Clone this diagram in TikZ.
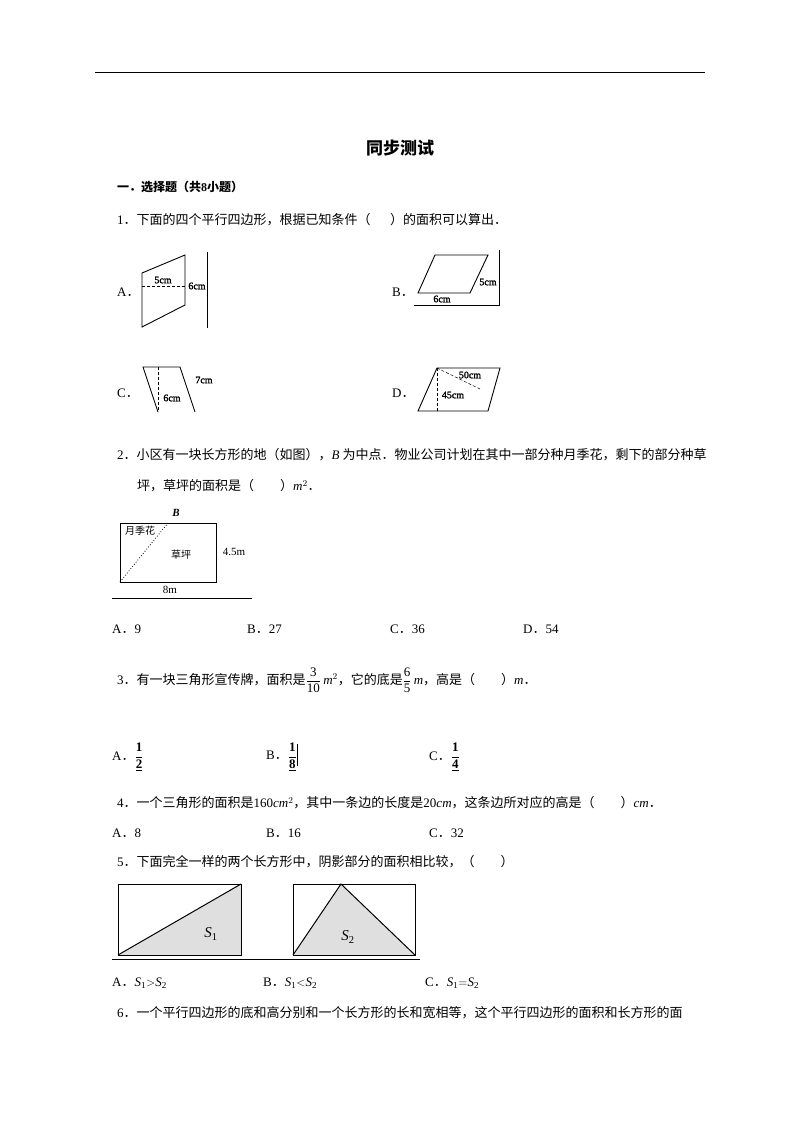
\documentclass[tikz,border=0pt]{standalone}
\usepackage{fontspec}
\usepackage{amsmath}
\setmainfont{Noto Sans CJK SC}
\newfontfamily\lat{Liberation Serif}
\newfontfamily\latb{Liberation Serif}[FakeBold=2]
\newcommand{\bn}[1]{\text{\lat\bfseries #1}}
\begin{document}
\begin{tikzpicture}[x=1pt,y=-1pt,
  txt/.style={anchor=west,inner sep=0pt,font=\fontsize{13}{15}\selectfont},
  lab/.style={inner sep=0pt,font=\fontsize{10}{11}\selectfont\latb},
  fig/.style={line width=0.9pt},
  dsh/.style={densely dashed,line width=0.5pt}]
\useasboundingbox (0,0) rectangle (800,1132);
\draw[line width=0.8pt] (95,72) -- (705,72);
\node[inner sep=0pt,font=\fontsize{17}{19}\selectfont\bfseries] (title) at (400,148) {同步测试};
\node[txt,font=\fontsize{12}{14}\selectfont\bfseries] (sec) at (117,187) {一．选择题（共{\lat\bfseries 8}小题）};
% Q1
\node[txt] (q1) at (117,220) {{\lat 1}．下面的四个平行四边形，根据已知条件（\hspace{1.5em}）的面积可以算出．};
\node[txt] (oa) at (117,292) {{\lat A}．};
\draw[fig] (142,273) -- (185,255) -- (185,305) -- (142,327) -- cycle;
\draw[dsh] (142,286) -- (185,286);
\node[lab] (a5) at (163,280) {5cm};
\node[lab] (a6) at (197,286) {6cm};
\draw[line width=0.6pt] (207,252) -- (207,328);
\node[txt] (ob) at (392,292) {{\lat B}．};
\draw[fig] (435,255) -- (488,255) -- (470,293) -- (418,293) -- cycle;
\draw[line width=0.6pt] (414,305) -- (499,305) -- (499,250);
\node[lab] (b5) at (488,282) {5cm};
\node[lab] (b6) at (442,299) {6cm};
\node[txt] (oc) at (117,393) {{\lat C}．};
\draw[fig] (158,412) -- (143,367) -- (180,367) -- (195,412);
\draw[dsh] (158,367) -- (158,412);
\node[lab] (c7) at (204,380) {7cm};
\node[lab] (c6) at (172,398) {6cm};
\node[txt] (od) at (392,393) {{\lat D}．};
\draw[fig] (437,368) -- (500,368) -- (488,411) -- (418,411) -- cycle;
\draw[dsh] (437,368) -- (437,411);
\draw[dsh] (437,368) -- (480,389);
\node[lab] (d50) at (470,375) {50cm};
\node[lab] (d45) at (453,395) {45cm};
% Q2
\node[txt] (q2a) at (117,455) {{\lat 2}．小区有一块长方形的地（如图），{\lat\itshape B} 为中点．物业公司计划在其中一部分种月季花，剩下的部分种草};
\node[txt] (q2b) at (137,486) {坪，草坪的面积是（\hspace{2em}）{\lat\itshape m}$^2$．};
\draw[line width=0.6pt] (120,523) rectangle (216,582);
\draw[dotted,line width=0.8pt] (120,582) -- (168,523);
\node[inner sep=0pt,font=\fontsize{11}{12}\selectfont\lat\bfseries\itshape] (bp) at (176,513) {B};
\node[inner sep=0pt,font=\fontsize{10}{11}\selectfont] (yj) at (140,531) {月季花};
\node[inner sep=0pt,font=\fontsize{10}{11}\selectfont] (cp) at (181,555) {草坪};
\node[inner sep=0pt,font=\fontsize{11}{12}\selectfont\lat] (h45) at (234,552) {4.5m};
\node[inner sep=0pt,font=\fontsize{11}{12}\selectfont\lat] (w8) at (170,590) {8m};
\draw[line width=0.6pt] (112,598) -- (252,598);
\node[txt] (q2oa) at (112,629) {{\lat A}．{\lat 9}};
\node[txt] (q2ob) at (247,629) {{\lat B}．{\lat 27}};
\node[txt] (q2oc) at (390,629) {{\lat C}．{\lat 36}};
\node[txt] (q2od) at (523,629) {{\lat D}．{\lat 54}};
% Q3
\node[txt] (q3) at (117,680) {{\lat 3}．有一块三角形宣传牌，面积是$\dfrac{\text{\lat 3}}{\text{\lat 10}}$\,{\lat\itshape m}$^2$，它的底是$\dfrac{\text{\lat 6}}{\text{\lat 5}}$\,{\lat\itshape m}，高是（\hspace{2em}）{\lat\itshape m}．};
\node[txt] (q3a) at (112,757) {{\lat A}．$\dfrac{\bn{1}}{\underline{\bn{2}}}$};
\node[txt] (q3b) at (266,757) {{\lat B}．$\dfrac{\bn{1}}{\underline{\bn{8}}}$\rule[-6pt]{0.5pt}{22pt}};
\node[txt] (q3c) at (429,757) {{\lat C}．$\dfrac{\bn{1}}{\underline{\bn{4}}}$};
% Q4
\node[txt] (q4) at (117,803) {{\lat 4}．一个三角形的面积是{\lat 160{\itshape cm}}$^2$，其中一条边的长度是{\lat 20{\itshape cm}}，这条边所对应的高是（\hspace{2em}）{\lat\itshape cm}．};
\node[txt] (q4a) at (112,833) {{\lat A}．{\lat 8}};
\node[txt] (q4b) at (266,833) {{\lat B}．{\lat 16}};
\node[txt] (q4c) at (429,833) {{\lat C}．{\lat 32}};
% Q5
\node[txt] (q5) at (117,862) {{\lat 5}．下面完全一样的两个长方形中，阴影部分的面积相比较，（\hspace{2em}）};
\fill[gray!25] (118,955) -- (241,884) -- (241,955) -- cycle;
\fill[gray!25] (293,955) -- (341,884) -- (415,955) -- cycle;
\draw[line width=1pt] (118,884) rectangle (241,955);
\draw[line width=1pt] (118,955) -- (241,884);
\draw[line width=1pt] (293,884) rectangle (415,955);
\draw[line width=1pt] (293,955) -- (341,884) -- (415,955);
\node[inner sep=0pt,font=\fontsize{15}{16}\selectfont\lat\itshape] (s1) at (211,934) {S\textsubscript{\upshape 1}};
\node[inner sep=0pt,font=\fontsize{15}{16}\selectfont\lat\itshape] (s2) at (348,937) {S\textsubscript{\upshape 2}};
\draw[line width=0.6pt] (112,959) -- (420,959);
\node[txt] (q5a) at (112,983) {{\lat A}．{\lat\itshape S\textsubscript{\upshape 1}}$>${\lat\itshape S\textsubscript{\upshape 2}}};
\node[txt] (q5b) at (263,983) {{\lat B}．{\lat\itshape S\textsubscript{\upshape 1}}$<${\lat\itshape S\textsubscript{\upshape 2}}};
\node[txt] (q5c) at (425,983) {{\lat C}．{\lat\itshape S\textsubscript{\upshape 1}}$=${\lat\itshape S\textsubscript{\upshape 2}}};
% Q6
\node[txt] (q6) at (117,1013) {{\lat 6}．一个平行四边形的底和高分别和一个长方形的长和宽相等，这个平行四边形的面积和长方形的面};
\end{tikzpicture}
\end{document}
